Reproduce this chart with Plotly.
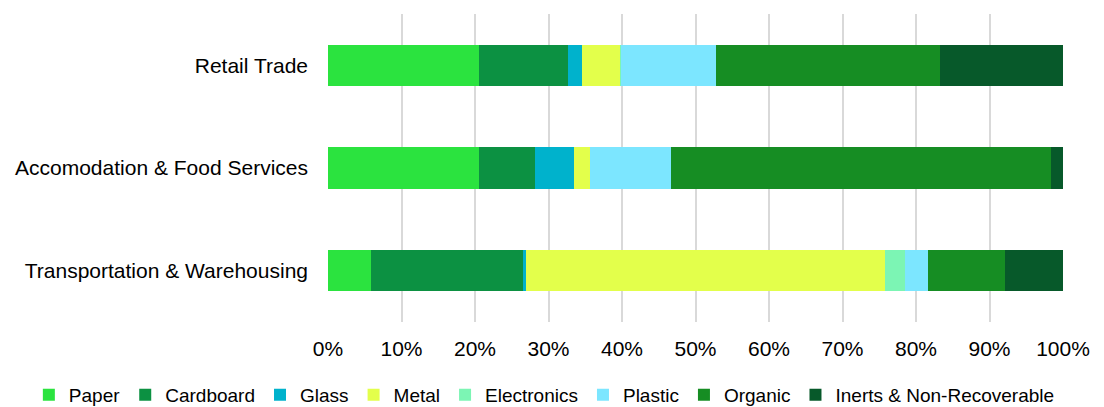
import plotly.graph_objects as go

categories = ["Retail Trade", "Accomodation & Food Services", "Transportation & Warehousing"]

materials = ["Paper", "Cardboard", "Glass", "Metal", "Electronics", "Plastic", "Organic",
             "Inerts & Non-Recoverable"]

paper = [20.5, 20.5, 5.8]
cardboard = [12.2, 7.7, 20.7]
glass = [1.9, 5.3, 0.4]
metal = [5.2, 2.1, 48.9]
electronics = [0.1, 0.0, 2.7]
plastic = [12.9, 11.1, 3.1]
organic = [30.4, 51.6, 10.5]
inerts = [16.8, 1.7, 7.9]

series = [paper, cardboard, glass, metal, electronics, plastic, organic, inerts]
colors = ["#2BE33F", "#0C9142", "#00B2CC", "#E3FF4B", "#7CF5B4", "#7CE6FF", "#168D23", "#07592A"]

x_ticks = list(range(0, 101, 10))

fig = go.Figure()
for name, vals, col in zip(materials, series, colors):
    fig.add_trace(go.Bar(
        y=categories, x=vals, name=name, orientation="h",
        marker=dict(color=col, line=dict(width=0)),
    ))

font = dict(family="Liberation Sans, Arial, sans-serif", size=21, color="#000000")

fig.update_layout(
    barmode="stack",
    bargap=0.6,
    width=1104, height=407,
    margin=dict(l=328, r=41, t=14, b=85, autoexpand=False),
    paper_bgcolor="white", plot_bgcolor="white",
    font=font,
    showlegend=True,
    legend=dict(
        orientation="h", xref="paper", yref="paper",
        x=-0.407, xanchor="left", y=-0.237, yanchor="middle",
        font=dict(family="Liberation Sans, Arial, sans-serif", size=19, color="#000000"),
        itemwidth=30, traceorder="normal", borderwidth=0,
    ),
    xaxis=dict(
        range=[0, 100], tickvals=x_ticks, ticktext=[f"{v}%" for v in x_ticks],
        showgrid=True, gridcolor="#D9D9D9", gridwidth=1.5,
        zeroline=False, showline=False, ticks="", ticklabelstandoff=12,
        tickfont=font,
    ),
    yaxis=dict(
        autorange="reversed", showgrid=False, zeroline=False, showline=False,
        ticks="", ticklabelstandoff=19, tickfont=font,
    ),
)

fig.write_html("out.html")
